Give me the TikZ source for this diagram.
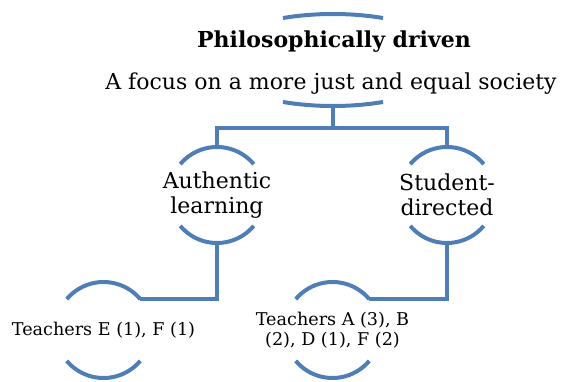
\documentclass[tikz,border=0pt]{standalone}
\usepackage{fontspec}
\setmainfont{DejaVu Serif}
\usetikzlibrary{shapes.geometric}
\definecolor{arcblue}{RGB}{79,126,183}
\begin{document}
\begin{tikzpicture}[x=1pt,y=1pt,
    ring/.style={circle,minimum size=96pt,inner sep=0pt,outer sep=0pt},
    rim/.style={line width=4pt,color=arcblue},
    link/.style={line width=3.7pt,color=arcblue},
    big/.style={font=\fontsize{22}{25.5}\selectfont,align=center},
    small/.style={font=\fontsize{17.6}{20}\selectfont,align=center}]
    \useasboundingbox (0,0) rectangle (561,381);
    \node[ellipse,minimum width=244pt,minimum height=92pt,inner sep=0pt,outer sep=0pt] (top) at (333,321) {};
    \node[big,anchor=base,font=\fontsize{22}{25.5}\selectfont\bfseries] (title) at (334,333) {Philosophically driven};
    \node[big,anchor=base] (focus) at (331,292) {A focus on a more just and equal society};
    \node[ring] (auth) at (217,186) {};
    \node[ring] (stud) at (447,186) {};
    \node[ring] (teachL) at (103.5,51) {};
    \node[ring] (teachR) at (332.5,51) {};
    \node[big] (authtxt) at (auth) {Authentic\\learning};
    \node[big] (studtxt) at (stud) {Student-\\directed};
    \node[small] (teachLtxt) at (teachL) {Teachers E (1), F (1)};
    \node[small] (teachRtxt) at (teachR) {Teachers A (3), B\\(2), D (1), F (2)};

    \draw[rim] (top.40) arc[start angle=65.8,end angle=114.2,x radius=122,y radius=46];
    \draw[rim] (top.220) arc[start angle=245.8,end angle=294.2,x radius=122,y radius=46];
    \foreach \n in {auth,stud,teachL,teachR}{
        \draw[rim] (\n.40) arc[start angle=40,end angle=140,radius=48];
        \draw[rim] (\n.220) arc[start angle=220,end angle=320,radius=48];
    }

    \draw[link] (top.south) -- ++(0,-22) coordinate (bus) -| (auth.north);
    \draw[link] (bus) -| (stud.north);
    \draw[link] (auth.south) |- (teachL.40);
    \draw[link] (stud.south) |- (teachR.40);
\end{tikzpicture}
\end{document}
